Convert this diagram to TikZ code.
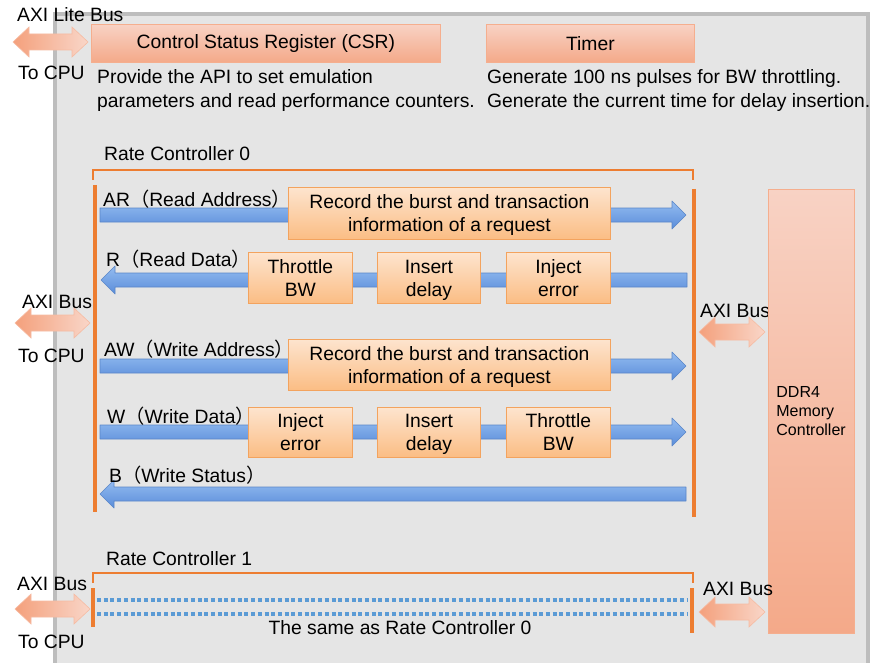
\documentclass[tikz,border=0pt]{standalone}
\usepackage{fontspec}
\setmainfont{Liberation Sans}
\newfontfamily\cjk{Noto Sans CJK SC}
\usetikzlibrary{calc}
\definecolor{panelfill}{HTML}{E5E5E5}
\definecolor{panelline}{HTML}{BDBDBD}
\definecolor{salTop}{HTML}{F8D2C4}
\definecolor{salBot}{HTML}{F4A989}
\definecolor{salLine}{HTML}{F5AE8E}
\definecolor{orTop}{HTML}{FDE4CE}
\definecolor{orBot}{HTML}{FBBD84}
\definecolor{orLine}{HTML}{F3A35E}
\definecolor{bluTop}{HTML}{94BCF0}
\definecolor{bluBot}{HTML}{5A8DDA}
\definecolor{bluLine}{HTML}{5A86C8}
\definecolor{barOr}{HTML}{ED7D31}
\definecolor{dotBlue}{HTML}{5B9BD5}
\definecolor{dblL}{HTML}{F4A07C}
\definecolor{dblR}{HTML}{F9D6C8}
\definecolor{dblLine}{HTML}{F6BBA2}
\newcommand\bxs{\rule[-4.5pt]{0pt}{23pt}}
\tikzset{
  bluearrow/.style={top color=bluTop, bottom color=bluBot, draw=bluLine, line width=0.6pt, line join=round},
  dblarrow/.style={left color=dblL, right color=dblR, draw=dblLine, line width=0.6pt},
  lbl/.style={anchor=base west, inner sep=0pt, font=\fontsize{19.3}{23}\selectfont},
  salbox/.style={anchor=north west, top color=salTop, bottom color=salBot, draw=salLine, line width=0.8pt, inner sep=0pt, font=\fontsize{19.3}{23}\selectfont},
  orbox/.style={anchor=north west, top color=orTop, bottom color=orBot, draw=orLine, line width=0.8pt, inner sep=0pt, align=center, font=\fontsize{19.3}{23}\selectfont},
  orbar/.style={draw=barOr, line width=4pt},
  bracketline/.style={draw=barOr, line width=1.2pt},
  dotline/.style={draw=dotBlue, line width=3.5pt, dash pattern=on 4pt off 2.7pt},
}
\newcommand\blkRight[2]{\path[bluearrow] let \p1=(#1), \p2=(#2) in (\x1,\y1+7pt) -- (\x2-14pt,\y1+7pt) -- (\x2-14pt,\y1+14pt) -- (\x2,\y1) -- (\x2-14pt,\y1-14pt) -- (\x2-14pt,\y1-7pt) -- (\x1,\y1-7pt) -- cycle;}
\newcommand\blkLeft[2]{\path[bluearrow] let \p1=(#1), \p2=(#2) in (\x1,\y1) -- (\x1+14pt,\y1+14pt) -- (\x1+14pt,\y1+7pt) -- (\x2,\y1+7pt) -- (\x2,\y1-7pt) -- (\x1+14pt,\y1-7pt) -- (\x1+14pt,\y1-14pt) -- cycle;}
\newcommand\dblArrow[2]{\path[dblarrow] let \p1=(#1), \p2=(#2) in (\x1,\y1) -- (\x1+16pt,\y1+15pt) -- (\x1+16pt,\y1+8pt) -- (\x2-16pt,\y1+8pt) -- (\x2-16pt,\y1+15pt) -- (\x2,\y1) -- (\x2-16pt,\y1-15pt) -- (\x2-16pt,\y1-8pt) -- (\x1+16pt,\y1-8pt) -- (\x1+16pt,\y1-15pt) -- cycle;}
\begin{document}
\begin{tikzpicture}[x=1pt,y=-1pt]
\useasboundingbox (0,0) rectangle (872,663);
\clip (0,0) rectangle (872,663);
\fill[white] (0,0) rectangle (872,663);
% panel
\path[fill=panelfill, draw=panelline, line width=3.5pt] (55,14) rectangle (868,700);

% top row
\node[lbl] (lite) at (17,22) {AXI Lite Bus};
\coordinate (liteL) at (13,42); \coordinate (liteR) at (88,42);
\dblArrow{liteL}{liteR}
\node[lbl] (cpu0) at (18,80) {To CPU};
\node[salbox, minimum width=349pt, minimum height=38pt] (csr) at (91,24) {Control Status Register (CSR)};
\node[salbox, minimum width=208pt, minimum height=38pt] (timer) at (486,24) {Timer};
\node[lbl] (csrd1) at (97,84) {Provide the API to set emulation};
\node[lbl] (csrd2) at (97,108) {parameters and read performance counters.};
\node[lbl] (tmd1) at (487,84) {Generate 100 ns pulses for BW throttling.};
\node[lbl] (tmd2) at (487,108) {Generate the current time for delay insertion.};

% Rate controller 0
\node[lbl] (rc0) at (104,161) {Rate Controller 0};
\draw[bracketline] (93,180) -- (93,170) -- (693,170) -- (693,180);
\coordinate (b0top) at (95,185); \coordinate (b0bot) at (95,512);
\coordinate (b1top) at (694,189); \coordinate (b1bot) at (694,517);
\draw[orbar] (b0top) -- (b0bot);
\draw[orbar] (b1top) -- (b1bot);

\coordinate (arL) at (100,215); \coordinate (arR) at (686,215);
\coordinate (rL) at (101,280); \coordinate (rR) at (687,280);
\coordinate (awL) at (100,366); \coordinate (awR) at (686,366);
\coordinate (wL) at (100,432); \coordinate (wR) at (686,432);
\coordinate (bL) at (100,494); \coordinate (bR) at (686,494);
\blkRight{arL}{arR}
\blkLeft{rL}{rR}
\blkRight{awL}{awR}
\blkRight{wL}{wR}
\blkLeft{bL}{bR}

\node[lbl] (arlbl) at (103,207) {AR{\cjk （}Read Address{\cjk ）}};
\node[lbl] (rlbl) at (106,266) {R{\cjk （}Read Data{\cjk ）}};
\node[lbl] (awlbl) at (104,356) {AW{\cjk （}Write Address{\cjk ）}};
\node[lbl] (wlbl) at (107,423) {W{\cjk （}Write Data{\cjk ）}};
\node[lbl] (blbl) at (109,482) {B{\cjk （}Write Status{\cjk ）}};

\node[orbox, minimum width=322pt, minimum height=52pt] (rec1) at (288,187) {\bxs Record the burst and transaction\\\bxs information of a request};
\node[orbox, minimum width=104pt, minimum height=51pt] (thr1) at (248,252) {\bxs Throttle\\\bxs BW};
\node[orbox, minimum width=103pt, minimum height=51pt] (del1) at (377,252) {\bxs Insert\\\bxs delay};
\node[orbox, minimum width=104pt, minimum height=51pt] (inj1) at (506,252) {\bxs Inject\\\bxs error};
\node[orbox, minimum width=322pt, minimum height=51pt] (rec2) at (288,339) {\bxs Record the burst and transaction\\\bxs information of a request};
\node[orbox, minimum width=104pt, minimum height=50pt] (inj2) at (248,407) {\bxs Inject\\\bxs error};
\node[orbox, minimum width=103pt, minimum height=50pt] (del2) at (377,407) {\bxs Insert\\\bxs delay};
\node[orbox, minimum width=104pt, minimum height=50pt] (thr2) at (506,407) {\bxs Throttle\\\bxs BW};

% left bus mid
\node[lbl] (axm) at (22,308) {AXI Bus};
\coordinate (mL) at (15,323); \coordinate (mR) at (90,323);
\dblArrow{mL}{mR}
\node[lbl] (cpum) at (18,362) {To CPU};

% right bus mid
\node[lbl] (axrm) at (700,317) {AXI Bus};
\coordinate (rmL) at (699,332); \coordinate (rmR) at (765,332);
\dblArrow{rmL}{rmR}

% DDR4
\node[salbox, text width=70pt, inner xsep=8pt, minimum height=444pt, align=left, font=\fontsize{16}{19}\selectfont] (ddr) at (768,189) {DDR4\\Memory\\Controller};

% Rate controller 1
\node[lbl] (rc1) at (106,565) {Rate Controller 1};
\draw[bracketline] (93,583) -- (93,573) -- (693,573) -- (693,583);
\coordinate (c0top) at (93,588); \coordinate (c0bot) at (93,627);
\coordinate (c1top) at (692,588); \coordinate (c1bot) at (692,633);
\draw[orbar] (c0top) -- (c0bot);
\draw[orbar] (c1top) -- (c1bot);
\coordinate (d1L) at (97,600); \coordinate (d1R) at (688,600);
\coordinate (d2L) at (97,614); \coordinate (d2R) at (688,614);
\draw[dotline] (d1L) -- (d1R);
\draw[dotline] (d2L) -- (d2R);
\node[lbl, anchor=base] (same) at (400,634) {The same as Rate Controller 0};

\node[lbl] (axb) at (17,590) {AXI Bus};
\coordinate (bbL) at (15,609); \coordinate (bbR) at (90,609);
\dblArrow{bbL}{bbR}
\node[lbl] (cpub) at (18,648) {To CPU};

\node[lbl] (axrb) at (703,595) {AXI Bus};
\coordinate (rbL) at (699,612); \coordinate (rbR) at (765,612);
\dblArrow{rbL}{rbR}
\end{tikzpicture}
\end{document}
